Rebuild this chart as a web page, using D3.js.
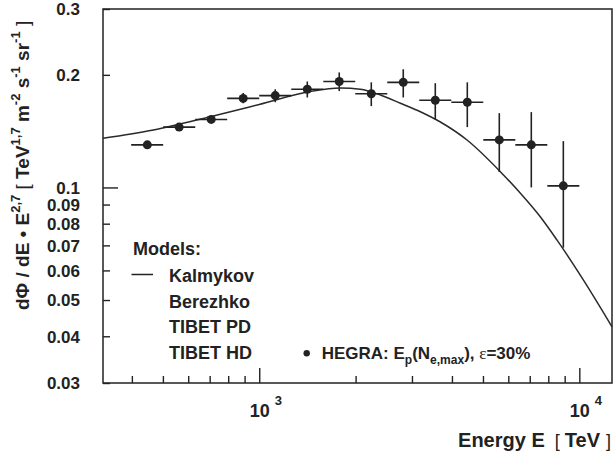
<!DOCTYPE html>
<html>
<head>
<meta charset="utf-8">
<script src="https://cdn.jsdelivr.net/npm/d3@7"></script>
<style>
  html, body { margin: 0; padding: 0; background: #fff; }
  svg { display: block; }
  text { font-family: "Liberation Sans", Arial, Helvetica, sans-serif; fill: #222; }
</style>
</head>
<body>
<svg id="chart" width="613" height="456"></svg>
<script>
// ---- data ----
const energy   = [447, 562, 708, 891, 1122, 1413, 1778, 2239, 2818, 3548, 4467, 5623, 7079, 8913];
const binLow   = [398, 501, 631, 794, 1000, 1259, 1585, 1995, 2512, 3162, 3981, 5012, 6310, 7943];
const binHigh  = [501, 631, 794, 1000, 1259, 1585, 1995, 2512, 3162, 3981, 5012, 6310, 7943, 10000];
const flux     = [0.130, 0.145, 0.152, 0.173, 0.176, 0.183, 0.192, 0.178, 0.191, 0.171, 0.169, 0.134, 0.130, 0.101];
const fluxLow  = [0.128, 0.143, 0.150, 0.168, 0.169, 0.174, 0.181, 0.165, 0.174, 0.152, 0.145, 0.110, 0.100, 0.069];
const fluxHigh = [0.132, 0.147, 0.154, 0.179, 0.183, 0.192, 0.203, 0.191, 0.207, 0.190, 0.191, 0.158, 0.159, 0.133];

const kalmykovE    = [325, 467, 703, 1000, 1443, 1792, 2070, 2390, 2761, 3187, 3681, 4458, 5665, 6546, 7551, 8511, 10292, 12650];
const kalmykovFlux = [0.1353, 0.1424, 0.1546, 0.1667, 0.1805, 0.1845, 0.1830, 0.1767, 0.1679, 0.1594, 0.1496, 0.1339, 0.1102, 0.0965, 0.0835, 0.0724, 0.0566, 0.0424];

const xMajorTicks = [1000, 10000];
const xMinorTicks = [400, 500, 600, 700, 800, 900, 2000, 3000, 4000, 5000, 6000, 7000, 8000, 9000];
const yMajorTicks = [0.1];
const yMinorTicks = [0.03, 0.04, 0.05, 0.06, 0.07, 0.08, 0.09, 0.2, 0.3];
const yTickLabels = [0.3, 0.2, 0.1, 0.09, 0.08, 0.07, 0.06, 0.05, 0.04, 0.03];
const modelNames = ["Kalmykov", "Berezhko", "TIBET PD", "TIBET HD"];

// ---- layout ----
const ink = "#222";
const m = { left: 103, right: 612, top: 9, bottom: 383 };
const svg = d3.select("#chart");

const x = d3.scaleLog().domain([325, 12650]).range([m.left, m.right]);
const y = d3.scaleLog().domain([0.03, 0.3]).range([m.bottom, m.top]);

// axes: inward ticks
function styleAxis(g) {
  g.select(".domain").remove();
  g.selectAll(".tick line").attr("stroke", ink).attr("stroke-width", 1.4);
}
svg.append("g").attr("transform", `translate(0,${m.bottom})`)
  .call(d3.axisBottom(x).tickValues(xMinorTicks).tickSizeInner(-7).tickSizeOuter(0).tickFormat(""))
  .call(styleAxis);
const xMaj = svg.append("g").attr("transform", `translate(0,${m.bottom})`)
  .call(d3.axisBottom(x).tickValues(xMajorTicks).tickSizeInner(-15).tickSizeOuter(0).tickFormat(() => "10"))
  .call(styleAxis);
xMaj.selectAll(".tick text")
  .attr("y", 34).attr("dy", 0)
  .attr("font-size", 18).attr("font-weight", "bold").attr("fill", ink)
  .style("font-family", "'Liberation Sans', Arial, sans-serif");
xMaj.selectAll(".tick").append("text")
  .attr("x", 15).attr("y", 22)
  .attr("text-anchor", "start")
  .attr("font-size", 13).attr("font-weight", "bold").attr("fill", ink)
  .style("font-family", "'Liberation Sans', Arial, sans-serif")
  .text(d => Math.round(Math.log10(d)));

svg.append("g").attr("transform", `translate(${m.left},0)`)
  .call(d3.axisLeft(y).tickValues(yMinorTicks).tickSizeInner(-7).tickSizeOuter(0).tickFormat(""))
  .call(styleAxis);
svg.append("g").attr("transform", `translate(${m.left},0)`)
  .call(d3.axisLeft(y).tickValues(yMajorTicks).tickSizeInner(-15).tickSizeOuter(0).tickFormat(""))
  .call(styleAxis);
const yLab = svg.append("g").attr("transform", `translate(${m.left},0)`)
  .call(d3.axisLeft(y).tickValues(yTickLabels).tickSize(0).tickPadding(23).tickFormat(d3.format("")))
  .call(g => g.select(".domain").remove());
yLab.selectAll(".tick text")
  .attr("font-size", 17).attr("font-weight", "bold").attr("fill", ink)
  .attr("dy", "0.34em")
  .style("font-family", "'Liberation Sans', Arial, sans-serif");

// frame
svg.append("rect")
  .attr("x", m.left).attr("y", m.top)
  .attr("width", m.right - m.left).attr("height", m.bottom - m.top)
  .attr("fill", "none").attr("stroke", ink).attr("stroke-width", 1.5);

// model curve
const line = d3.line().x(d => x(d[0])).y(d => y(d[1])).curve(d3.curveMonotoneX);
svg.append("path")
  .datum(kalmykovE.map((e, i) => [e, kalmykovFlux[i]]))
  .attr("d", line).attr("fill", "none").attr("stroke", "#2a2a2a").attr("stroke-width", 1.5);

// data points with error bars
const pts = energy.map((e, i) => ({ e, lo: binLow[i], hi: binHigh[i], f: flux[i], fl: fluxLow[i], fh: fluxHigh[i] }));
const gp = svg.append("g").attr("stroke", ink).attr("stroke-width", 1.6);
gp.selectAll("line.h").data(pts).join("line").attr("class", "h")
  .attr("x1", d => x(d.lo)).attr("x2", d => x(d.hi))
  .attr("y1", d => y(d.f)).attr("y2", d => y(d.f));
gp.selectAll("line.v").data(pts).join("line").attr("class", "v")
  .attr("x1", d => x(d.e)).attr("x2", d => x(d.e))
  .attr("y1", d => y(d.fl)).attr("y2", d => y(d.fh));
svg.append("g").selectAll("circle").data(pts).join("circle")
  .attr("cx", d => x(d.e)).attr("cy", d => y(d.f)).attr("r", 4.5).attr("fill", ink);

// legend
const fs = 18;
svg.append("text").attr("x", 133).attr("y", 255)
  .attr("font-size", fs).attr("font-weight", "bold").text("Models:");
modelNames.forEach((name, i) => {
  svg.append("text").attr("x", 169).attr("y", 281.7 + i * 25.8)
    .attr("font-size", fs).attr("font-weight", "bold").text(name);
});
svg.append("line").attr("x1", 131.5).attr("x2", 153).attr("y1", 274.5).attr("y2", 274.5)
  .attr("stroke", ink).attr("stroke-width", 1.5);

svg.append("circle").attr("cx", 306.7).attr("cy", 353.3).attr("r", 3.2).attr("fill", ink);
const heg = svg.append("text").attr("x", 321.7).attr("y", 359.3)
  .attr("font-size", 17).attr("font-weight", "bold");
heg.append("tspan").text("HEGRA: E");
heg.append("tspan").attr("font-size", 12).attr("dy", 5).text("p");
heg.append("tspan").attr("dy", -5).text("(N");
heg.append("tspan").attr("font-size", 12).attr("dy", 5).text("e,max");
heg.append("tspan").attr("dy", -5).text("), ");
heg.append("tspan").attr("font-weight", "normal").style("font-family", "'Liberation Serif', 'DejaVu Serif', serif").text("ε");
heg.append("tspan").text("=30%");

// x title
const xt = svg.append("text").attr("x", 611).attr("y", 447)
  .attr("text-anchor", "end").attr("font-size", 20).attr("font-weight", "bold");
xt.append("tspan").text("Energy E");
xt.append("tspan").attr("font-weight", "normal").attr("font-size", 18).attr("dx", 10).text("[");
xt.append("tspan").attr("dx", 5).text("TeV");
xt.append("tspan").attr("font-weight", "normal").attr("font-size", 18).attr("dx", 6).text("]");

// y title
const yt = svg.append("text").attr("transform", "translate(29,310) rotate(-90)")
  .attr("text-anchor", "start").attr("font-size", 19).attr("font-weight", "bold");
yt.append("tspan").text("dΦ / dE • E");
yt.append("tspan").attr("font-size", 13).attr("dy", -9).text("2,7");
yt.append("tspan").attr("dy", 9).attr("font-weight", "normal").text(" [ ");
yt.append("tspan").text("TeV");
yt.append("tspan").attr("font-size", 13).attr("dy", -9).text("1,7");
yt.append("tspan").attr("dy", 9).text(" m");
yt.append("tspan").attr("font-size", 13).attr("dy", -9).text("-2");
yt.append("tspan").attr("dy", 9).text(" s");
yt.append("tspan").attr("font-size", 13).attr("dy", -9).text("-1");
yt.append("tspan").attr("dy", 9).text(" sr");
yt.append("tspan").attr("font-size", 13).attr("dy", -9).text("-1");
yt.append("tspan").attr("dy", 9).attr("font-weight", "normal").text(" ]");
</script>
</body>
</html>
